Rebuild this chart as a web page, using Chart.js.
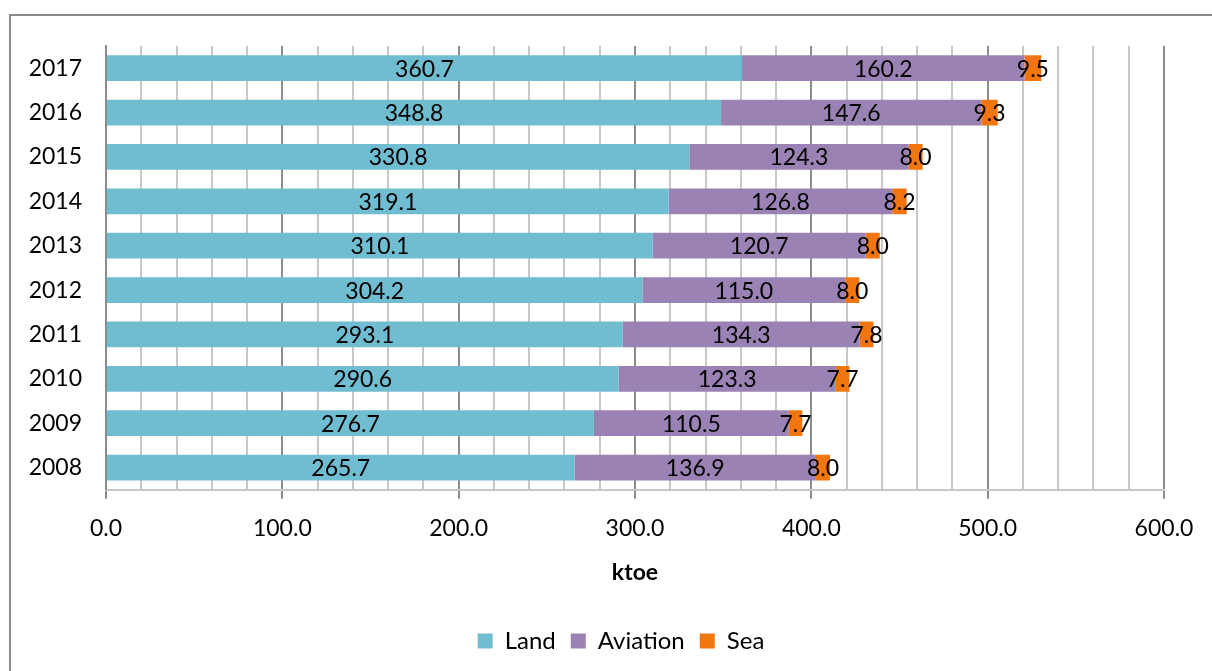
<!DOCTYPE html>
<html>
<head>
<meta charset="utf-8">
<script src="https://cdn.jsdelivr.net/npm/chart.js@4.4.1/dist/chart.umd.min.js"></script>
<style>
  html, body { margin: 0; padding: 0; background: #fff; overflow: hidden; }
  #frame { position: absolute; left: 9px; top: 14px; width: 1240px; height: 700px; border: 2px solid #8a8a8a; box-sizing: border-box; }
  #wrap { position: absolute; left: 0; top: 0; width: 1212px; height: 671px; }
</style>
</head>
<body>
<div id="frame"></div>
<div id="wrap"><canvas id="chart" width="1212" height="671"></canvas></div>
<script>
const years = ['2017', '2016', '2015', '2014', '2013', '2012', '2011', '2010', '2009', '2008'];
const land = [360.7, 348.8, 330.8, 319.1, 310.1, 304.2, 293.1, 290.6, 276.7, 265.7];
const aviation = [160.2, 147.6, 124.3, 126.8, 120.7, 115.0, 134.3, 123.3, 110.5, 136.9];
const sea = [9.5, 9.3, 8.0, 8.2, 8.0, 8.0, 7.8, 7.7, 7.7, 8.0];

const FONT = 'Lato, "Noto Sans", sans-serif';
const SIZE = 23;

// value labels centred on every bar segment
const segmentLabels = {
  id: 'segmentLabels',
  afterDatasetsDraw(chart) {
    const ctx = chart.ctx;
    ctx.save();
    ctx.font = `${SIZE}px ${FONT}`;
    ctx.fillStyle = '#000';
    ctx.textAlign = 'center';
    ctx.textBaseline = 'middle';
    chart.data.datasets.forEach((ds, i) => {
      chart.getDatasetMeta(i).data.forEach((bar, j) => {
        const p = bar.getCenterPoint();
        ctx.fillText(ds.data[j].toFixed(1), p.x, p.y + 1);
      });
    });
    ctx.restore();
  }
};

// centre the legend under the plot area rather than the whole canvas
const legendShift = {
  id: 'legendShift',
  afterLayout(chart) {
    const lg = chart.legend;
    const shift = (chart.chartArea.left + chart.chartArea.right) / 2 - (lg.left + lg.right) / 2 - 14;
    lg.left += shift;
    lg.right += shift;
  }
};

const major = v => v % 100 === 0;

new Chart(document.getElementById('chart'), {
  type: 'bar',
  data: {
    labels: years,
    datasets: [
      { label: 'Land', data: land, backgroundColor: '#70BCD0' },
      { label: 'Aviation', data: aviation, backgroundColor: '#9A82B4' },
      { label: 'Sea', data: sea, backgroundColor: '#F1760F' }
    ]
  },
  options: {
    indexAxis: 'y',
    responsive: false,
    animation: false,
    datasets: { bar: { categoryPercentage: 1, barPercentage: 0.58 } },
    layout: { padding: { left: 20, right: 48, top: 46, bottom: 8 } },
    plugins: {
      legend: {
        position: 'bottom',
        labels: {
          font: { family: FONT, size: 24 },
          color: '#000',
          boxWidth: 15,
          boxHeight: 15,
          padding: 15
        }
      },
      tooltip: { enabled: false }
    },
    scales: {
      x: {
        stacked: true,
        min: 0,
        max: 600,
        ticks: {
          stepSize: 20,
          autoSkip: false,
          maxRotation: 0,
          color: '#000',
          font: { family: FONT, size: SIZE },
          padding: 16,
          callback: v => major(v) ? v.toFixed(1) : ''
        },
        grid: {
          color: c => major(c.tick.value) ? '#8c8c8c' : '#c8c8c8',
          lineWidth: 2,
          tickLength: 9,
          tickColor: c => major(c.tick.value) ? '#8c8c8c' : 'rgba(0,0,0,0)'
        },
        border: { color: '#c8c8c8', width: 2 },
        title: {
          display: true,
          text: 'ktoe',
          color: '#000',
          font: { family: FONT, size: SIZE, weight: 'bold' },
          padding: { top: 0, bottom: 28 }
        }
      },
      y: {
        stacked: true,
        grid: { display: false, drawTicks: false },
        border: { color: '#8c8c8c', width: 2 },
        ticks: {
          color: '#000',
          font: { family: FONT, size: SIZE },
          padding: 24
        },
        afterFit: s => { s.width = 86; }
      }
    }
  },
  plugins: [segmentLabels, legendShift]
});
</script>
</body>
</html>
